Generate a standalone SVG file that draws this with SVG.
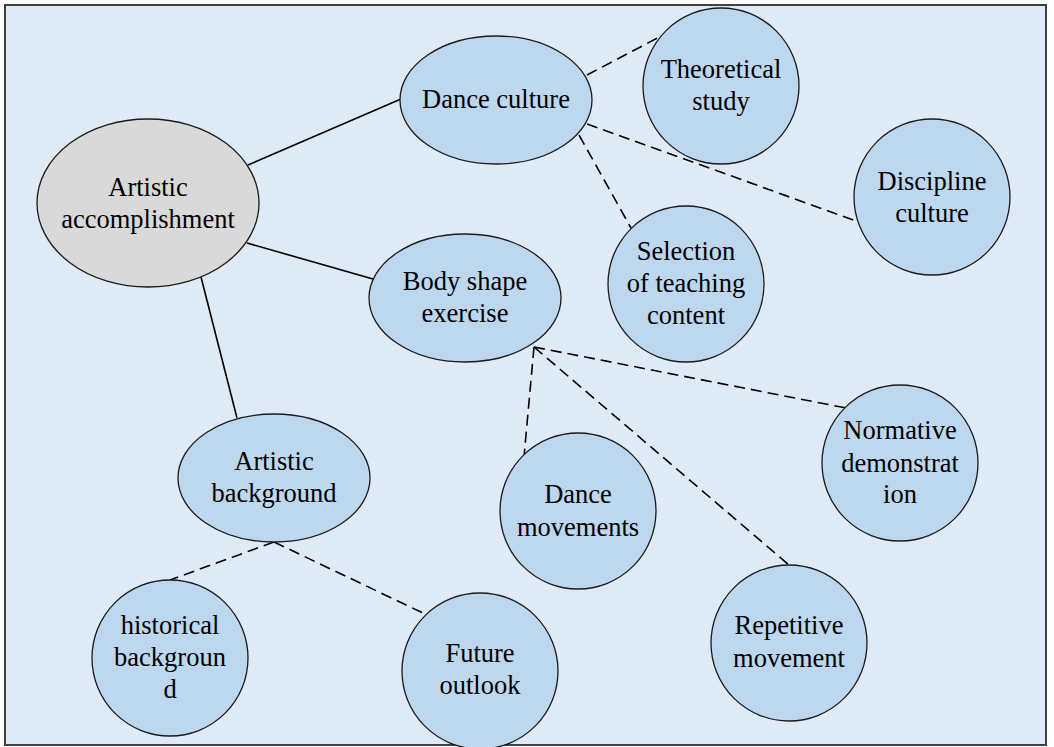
<svg xmlns="http://www.w3.org/2000/svg" width="1054" height="747" viewBox="0 0 1054 747">
<style>
.bg{fill:#deebf7;stroke:#404040;stroke-width:2}
.n{fill:#bdd7ee;stroke:#1a1a1a;stroke-width:1.3}
.g{fill:#d9d9d9;stroke:#1a1a1a;stroke-width:1.3}
.t{font-family:"Liberation Serif","Times New Roman",serif;font-size:26.5px;fill:#000;text-anchor:middle}
.s{stroke:#000;stroke-width:1.6;fill:none}
.d{stroke:#000;stroke-width:1.6;fill:none;stroke-dasharray:11 6}
</style>
<rect class="bg" x="5" y="5" width="1041" height="740"/>
<g id="connectors">
<line class="s" x1="248" y1="165" x2="401" y2="99"/>
<line class="s" x1="247" y1="243" x2="373" y2="279"/>
<line class="s" x1="201" y1="277" x2="237" y2="418"/>
<line class="d" x1="587" y1="75" x2="667" y2="33"/>
<line class="d" x1="587" y1="124" x2="859" y2="222"/>
<line class="d" x1="579" y1="135" x2="631" y2="228"/>
<line class="d" x1="534" y1="347" x2="524" y2="457"/>
<line class="d" x1="534" y1="347" x2="789" y2="565"/>
<line class="d" x1="534" y1="347" x2="846" y2="408"/>
<line class="d" x1="274" y1="542" x2="170" y2="580"/>
<line class="d" x1="274" y1="542" x2="425" y2="614"/>
</g>
<g id="artistic-accomplishment">
<ellipse class="g" cx="148" cy="203" rx="111" ry="84"/>
<text class="t" x="148" y="196">Artistic</text>
<text class="t" x="148" y="228">accomplishment</text>
</g>
<g id="dance-culture">
<ellipse class="n" cx="496" cy="100" rx="96" ry="64"/>
<text class="t" x="496" y="108">Dance culture</text>
</g>
<g id="theoretical-study">
<circle class="n" cx="721" cy="86" r="78"/>
<text class="t" x="721" y="78">Theoretical</text>
<text class="t" x="721" y="110">study</text>
</g>
<g id="discipline-culture">
<circle class="n" cx="932" cy="197" r="78"/>
<text class="t" x="932" y="190">Discipline</text>
<text class="t" x="932" y="222">culture</text>
</g>
<g id="selection">
<circle class="n" cx="686" cy="284" r="78"/>
<text class="t" x="686" y="260">Selection</text>
<text class="t" x="686" y="292">of teaching</text>
<text class="t" x="686" y="324">content</text>
</g>
<g id="body-shape-exercise">
<ellipse class="n" cx="465" cy="298" rx="96" ry="64"/>
<text class="t" x="465" y="290">Body shape</text>
<text class="t" x="465" y="322">exercise</text>
</g>
<g id="artistic-background">
<ellipse class="n" cx="274" cy="478" rx="96" ry="64"/>
<text class="t" x="274" y="470">Artistic</text>
<text class="t" x="274" y="502">background</text>
</g>
<g id="historical-background">
<circle class="n" cx="170" cy="658" r="78"/>
<text class="t" x="170" y="634">historical</text>
<text class="t" x="170" y="666">backgroun</text>
<text class="t" x="170" y="698">d</text>
</g>
<g id="future-outlook">
<circle class="n" cx="480" cy="671" r="78"/>
<text class="t" x="480" y="662">Future</text>
<text class="t" x="480" y="694">outlook</text>
</g>
<g id="dance-movements">
<circle class="n" cx="578" cy="511" r="78"/>
<text class="t" x="578" y="503">Dance</text>
<text class="t" x="578" y="536">movements</text>
</g>
<g id="normative-demonstration">
<circle class="n" cx="900" cy="463" r="78"/>
<text class="t" x="900" y="439">Normative</text>
<text class="t" x="900" y="472">demonstrat</text>
<text class="t" x="900" y="503">ion</text>
</g>
<g id="repetitive-movement">
<circle class="n" cx="789" cy="643" r="78"/>
<text class="t" x="789" y="634">Repetitive</text>
<text class="t" x="789" y="667">movement</text>
</g>
</svg>
